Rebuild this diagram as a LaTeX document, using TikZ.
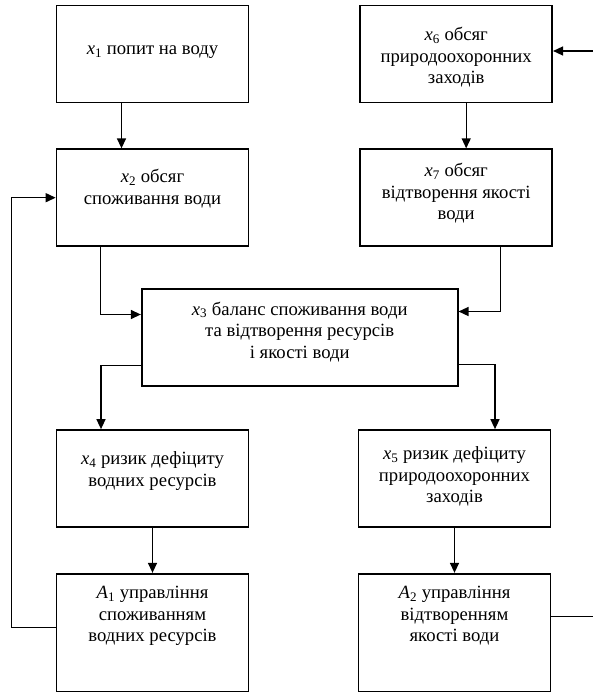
\documentclass[tikz,border=0pt]{standalone}
\usepackage{fontspec}
\setmainfont{Liberation Serif}
\usetikzlibrary{arrows.meta, positioning}

\newcommand{\varsub}[2]{\textit{#1}\textsubscript{#2}}

\begin{document}
\begin{tikzpicture}[x=1pt, y=-1pt,
    node distance=45pt and 110pt,
    block/.style = {rectangle, draw, line width=1.7pt, align=center, minimum width=192pt, minimum height=97pt, inner sep=0pt, font=\fontsize{18.67}{21.5}\selectfont},
    wideblock/.style = {block, minimum width=316pt},
    lowblock/.style = {block, minimum height=118pt},
    textpos/.style 2 args = {text height=#1, text depth=#2},
    link/.style = {line width=1.4pt},
    >={Triangle[length=10pt, width=9pt]}]

    \useasboundingbox (0,0) rectangle (593,692);

    \node[block, textpos={14pt}{13pt}] (x1) at (152.5,54) {\varsub{x}{1} попит на воду};
    \node[block, textpos={60pt}{0pt}, right=of x1] (x6) {\varsub{x}{6} обсяг\\природоохоронних\\заходів};
    \node[block, textpos={35.5pt}{22pt}, below=of x1] (x2) {\varsub{x}{2} обсяг\\споживання води};
    \node[block, textpos={57pt}{12.6pt}, below=of x6] (x7) {\varsub{x}{7} обсяг\\відтворення якості\\води};
    \node[wideblock, textpos={57pt}{15.6pt}] (x3) at (299.7,337.5) {\varsub{x}{3} баланс споживання води\\та відтворення ресурсів\\і якості води};
    \node[block, textpos={35.5pt}{20.5pt}] (x4) at (152.5,478.5) {\varsub{x}{4} ризик дефіциту\\водних ресурсів};
    \node[block, textpos={57pt}{9pt}] (x5) at (454.5,478.5) {\varsub{x}{5} ризик дефіциту\\природоохоронних\\заходів};
    \node[lowblock, textpos={57pt}{38.6pt}, below=of x4] (A1) {\varsub{A}{1} управління\\споживанням\\водних ресурсів};
    \node[lowblock, textpos={57pt}{38.6pt}, below=of x5] (A2) {\varsub{A}{2} управління\\відтворенням\\якості води};

    \coordinate (leftrail) at (11.5,0);
    \coordinate (rightrail) at (597,0);

    \draw[link, ->] ([xshift=-31pt]x1.south) -- ([xshift=-31pt]x2.north);
    \draw[link, ->] ([xshift=10pt]x6.south) -- ([xshift=10pt]x7.north);
    \draw[link, ->] ([xshift=-52pt]x2.south) |- ([yshift=23pt]x3.west);
    \draw[link, ->] ([xshift=44pt]x7.south) |- ([yshift=26pt]x3.east);
    \draw[link, ->] ([yshift=-28pt]x3.west) -| ([xshift=-51.5pt]x4.north);
    \draw[link, ->] ([yshift=-27pt]x3.east) -| ([xshift=40.5pt]x5.north);
    \draw[link, ->] (x4) -- (A1);
    \draw[link, ->] (x5) -- (A2);
    \draw[link, ->] ([yshift=5pt]A1.west) -| (leftrail |- x2.west) -- (x2.west);
    \draw[link, ->] ([yshift=16pt]A2.east) -| ([yshift=3pt]rightrail |- x6.east) -- ([yshift=3pt]x6.east);

\end{tikzpicture}
\end{document}
